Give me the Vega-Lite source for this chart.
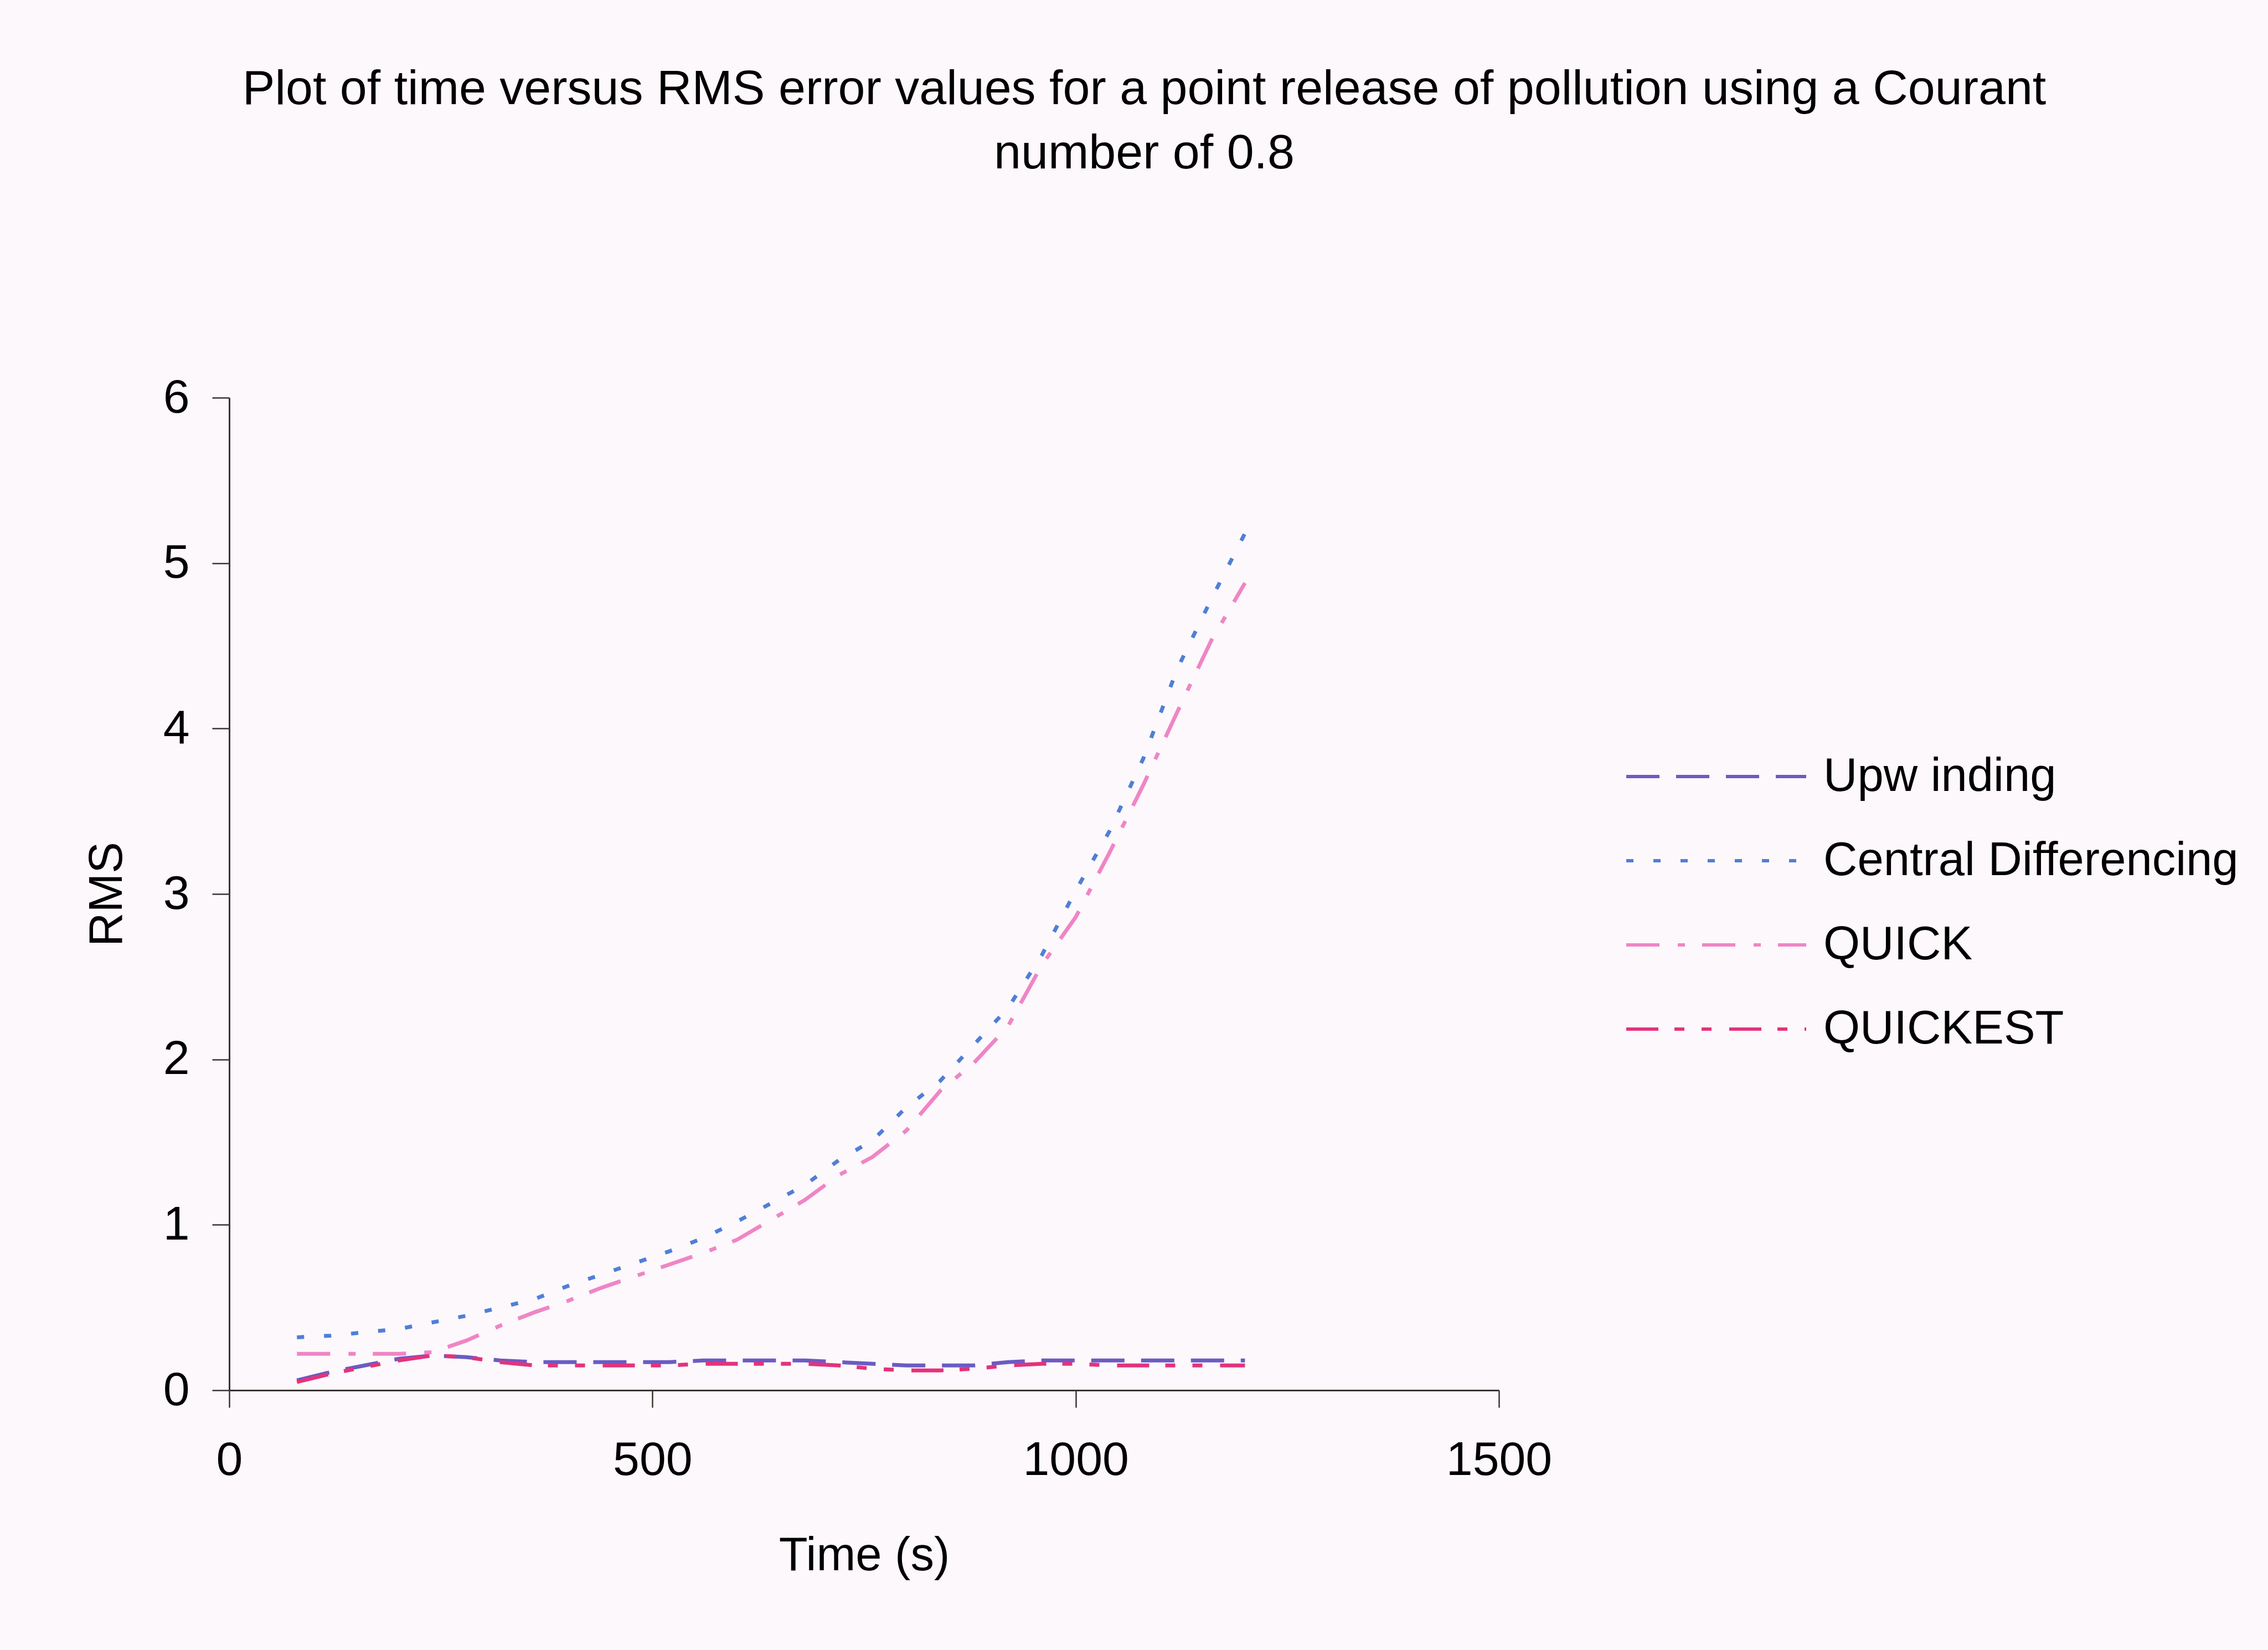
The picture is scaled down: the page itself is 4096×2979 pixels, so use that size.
{
  "$schema": "https://vega.github.io/schema/vega-lite/v6.json",
  "width": 2293,
  "height": 1792,
  "autosize": {"type": "none"},
  "padding": {"left": 414, "top": 718, "right": 1389, "bottom": 469},
  "background": "#fdf8fb",
  "title": {
    "text": ["Plot of time versus RMS error values for a point release of pollution using a Courant", "number of 0.8"],
    "fontSize": 88,
    "font": "Liberation Sans",
    "fontWeight": "normal",
    "lineHeight": 116,
    "anchor": "middle",
    "frame": "group",
    "dx": 506,
    "offset": 353,
    "color": "#000000"
  },
  "datasets": {
    "rms": [
      {"t": 80, "series": "Upw inding", "rms": 0.06},
      {"t": 120, "series": "Upw inding", "rms": 0.11},
      {"t": 160, "series": "Upw inding", "rms": 0.15},
      {"t": 200, "series": "Upw inding", "rms": 0.19},
      {"t": 240, "series": "Upw inding", "rms": 0.21},
      {"t": 280, "series": "Upw inding", "rms": 0.20},
      {"t": 320, "series": "Upw inding", "rms": 0.18},
      {"t": 360, "series": "Upw inding", "rms": 0.17},
      {"t": 400, "series": "Upw inding", "rms": 0.17},
      {"t": 440, "series": "Upw inding", "rms": 0.17},
      {"t": 480, "series": "Upw inding", "rms": 0.17},
      {"t": 520, "series": "Upw inding", "rms": 0.17},
      {"t": 560, "series": "Upw inding", "rms": 0.18},
      {"t": 600, "series": "Upw inding", "rms": 0.18},
      {"t": 640, "series": "Upw inding", "rms": 0.18},
      {"t": 680, "series": "Upw inding", "rms": 0.18},
      {"t": 720, "series": "Upw inding", "rms": 0.17},
      {"t": 760, "series": "Upw inding", "rms": 0.16},
      {"t": 800, "series": "Upw inding", "rms": 0.15},
      {"t": 840, "series": "Upw inding", "rms": 0.15},
      {"t": 880, "series": "Upw inding", "rms": 0.15},
      {"t": 920, "series": "Upw inding", "rms": 0.17},
      {"t": 960, "series": "Upw inding", "rms": 0.18},
      {"t": 1000, "series": "Upw inding", "rms": 0.18},
      {"t": 1040, "series": "Upw inding", "rms": 0.18},
      {"t": 1080, "series": "Upw inding", "rms": 0.18},
      {"t": 1120, "series": "Upw inding", "rms": 0.18},
      {"t": 1160, "series": "Upw inding", "rms": 0.18},
      {"t": 1200, "series": "Upw inding", "rms": 0.18},

      {"t": 80, "series": "Central Differencing", "rms": 0.32},
      {"t": 120, "series": "Central Differencing", "rms": 0.33},
      {"t": 160, "series": "Central Differencing", "rms": 0.35},
      {"t": 200, "series": "Central Differencing", "rms": 0.37},
      {"t": 240, "series": "Central Differencing", "rms": 0.41},
      {"t": 280, "series": "Central Differencing", "rms": 0.45},
      {"t": 320, "series": "Central Differencing", "rms": 0.50},
      {"t": 360, "series": "Central Differencing", "rms": 0.55},
      {"t": 400, "series": "Central Differencing", "rms": 0.63},
      {"t": 440, "series": "Central Differencing", "rms": 0.70},
      {"t": 480, "series": "Central Differencing", "rms": 0.77},
      {"t": 520, "series": "Central Differencing", "rms": 0.84},
      {"t": 560, "series": "Central Differencing", "rms": 0.92},
      {"t": 600, "series": "Central Differencing", "rms": 1.02},
      {"t": 640, "series": "Central Differencing", "rms": 1.13},
      {"t": 680, "series": "Central Differencing", "rms": 1.24},
      {"t": 720, "series": "Central Differencing", "rms": 1.39},
      {"t": 760, "series": "Central Differencing", "rms": 1.51},
      {"t": 800, "series": "Central Differencing", "rms": 1.71},
      {"t": 840, "series": "Central Differencing", "rms": 1.87},
      {"t": 880, "series": "Central Differencing", "rms": 2.09},
      {"t": 920, "series": "Central Differencing", "rms": 2.31},
      {"t": 960, "series": "Central Differencing", "rms": 2.63},
      {"t": 1000, "series": "Central Differencing", "rms": 3.02},
      {"t": 1040, "series": "Central Differencing", "rms": 3.38},
      {"t": 1080, "series": "Central Differencing", "rms": 3.82},
      {"t": 1120, "series": "Central Differencing", "rms": 4.36},
      {"t": 1160, "series": "Central Differencing", "rms": 4.78},
      {"t": 1200, "series": "Central Differencing", "rms": 5.18},

      {"t": 80, "series": "QUICK", "rms": 0.22},
      {"t": 120, "series": "QUICK", "rms": 0.22},
      {"t": 160, "series": "QUICK", "rms": 0.22},
      {"t": 200, "series": "QUICK", "rms": 0.22},
      {"t": 240, "series": "QUICK", "rms": 0.23},
      {"t": 280, "series": "QUICK", "rms": 0.30},
      {"t": 320, "series": "QUICK", "rms": 0.39},
      {"t": 360, "series": "QUICK", "rms": 0.47},
      {"t": 400, "series": "QUICK", "rms": 0.54},
      {"t": 440, "series": "QUICK", "rms": 0.62},
      {"t": 480, "series": "QUICK", "rms": 0.69},
      {"t": 520, "series": "QUICK", "rms": 0.76},
      {"t": 560, "series": "QUICK", "rms": 0.83},
      {"t": 600, "series": "QUICK", "rms": 0.91},
      {"t": 640, "series": "QUICK", "rms": 1.03},
      {"t": 680, "series": "QUICK", "rms": 1.15},
      {"t": 720, "series": "QUICK", "rms": 1.30},
      {"t": 760, "series": "QUICK", "rms": 1.41},
      {"t": 800, "series": "QUICK", "rms": 1.57},
      {"t": 840, "series": "QUICK", "rms": 1.81},
      {"t": 880, "series": "QUICK", "rms": 1.98},
      {"t": 920, "series": "QUICK", "rms": 2.20},
      {"t": 960, "series": "QUICK", "rms": 2.57},
      {"t": 1000, "series": "QUICK", "rms": 2.86},
      {"t": 1040, "series": "QUICK", "rms": 3.25},
      {"t": 1080, "series": "QUICK", "rms": 3.66},
      {"t": 1120, "series": "QUICK", "rms": 4.10},
      {"t": 1160, "series": "QUICK", "rms": 4.53},
      {"t": 1200, "series": "QUICK", "rms": 4.88},

      {"t": 80, "series": "QUICKEST", "rms": 0.05},
      {"t": 120, "series": "QUICKEST", "rms": 0.10},
      {"t": 160, "series": "QUICKEST", "rms": 0.14},
      {"t": 200, "series": "QUICKEST", "rms": 0.18},
      {"t": 240, "series": "QUICKEST", "rms": 0.21},
      {"t": 280, "series": "QUICKEST", "rms": 0.20},
      {"t": 320, "series": "QUICKEST", "rms": 0.17},
      {"t": 360, "series": "QUICKEST", "rms": 0.15},
      {"t": 400, "series": "QUICKEST", "rms": 0.15},
      {"t": 440, "series": "QUICKEST", "rms": 0.15},
      {"t": 480, "series": "QUICKEST", "rms": 0.15},
      {"t": 520, "series": "QUICKEST", "rms": 0.15},
      {"t": 560, "series": "QUICKEST", "rms": 0.16},
      {"t": 600, "series": "QUICKEST", "rms": 0.16},
      {"t": 640, "series": "QUICKEST", "rms": 0.16},
      {"t": 680, "series": "QUICKEST", "rms": 0.16},
      {"t": 720, "series": "QUICKEST", "rms": 0.15},
      {"t": 760, "series": "QUICKEST", "rms": 0.13},
      {"t": 800, "series": "QUICKEST", "rms": 0.12},
      {"t": 840, "series": "QUICKEST", "rms": 0.12},
      {"t": 880, "series": "QUICKEST", "rms": 0.13},
      {"t": 920, "series": "QUICKEST", "rms": 0.15},
      {"t": 960, "series": "QUICKEST", "rms": 0.16},
      {"t": 1000, "series": "QUICKEST", "rms": 0.16},
      {"t": 1040, "series": "QUICKEST", "rms": 0.15},
      {"t": 1080, "series": "QUICKEST", "rms": 0.15},
      {"t": 1120, "series": "QUICKEST", "rms": 0.15},
      {"t": 1160, "series": "QUICKEST", "rms": 0.15},
      {"t": 1200, "series": "QUICKEST", "rms": 0.15}
    ]
  },
  "data": {"name": "rms"},
  "mark": {"type": "line", "strokeWidth": 7, "strokeCap": "butt"},
  "encoding": {
    "x": {
      "field": "t",
      "type": "quantitative",
      "scale": {"domain": [0, 1500], "nice": false, "zero": false},
      "axis": {
        "values": [0, 500, 1000, 1500],
        "format": "d",
        "title": "Time (s)",
        "labelPadding": 53,
        "titlePadding": 88,
        "labelFlush": false,
        "labelOverlap": false,
        "labelLimit": 0
      }
    },
    "y": {
      "field": "rms",
      "type": "quantitative",
      "scale": {"domain": [0, 6], "nice": false},
      "axis": {
        "values": [0, 1, 2, 3, 4, 5, 6],
        "format": "d",
        "title": "RMS",
        "labelPadding": 41,
        "titlePadding": 57,
        "labelFlush": false,
        "labelOverlap": false,
        "labelLimit": 0
      }
    },
    "color": {
      "field": "series",
      "type": "nominal",
      "sort": null,
      "scale": {
        "domain": ["Upw inding", "Central Differencing", "QUICK", "QUICKEST"],
        "range": ["#6b5bc4", "#4f7fd6", "#ef85c6", "#e2337e"]
      },
      "legend": {
        "title": null,
        "orient": "none",
        "legendX": 2520,
        "legendY": 640,
        "symbolType": "stroke",
        "symbolSize": 105625,
        "symbolStrokeWidth": 6,
        "labelFontSize": 85,
        "labelFont": "Liberation Sans",
        "labelColor": "#000000",
        "labelLimit": 2000,
        "labelOffset": 28,
        "rowPadding": 64,
        "clipHeight": 88,
        "padding": 0,
        "symbolOffset": 0
      }
    },
    "strokeDash": {
      "field": "series",
      "type": "nominal",
      "sort": null,
      "scale": {
        "domain": ["Upw inding", "Central Differencing", "QUICK", "QUICKEST"],
        "range": [[60, 30], [13, 36], [60, 33, 13, 31], [58, 29, 18, 31, 18, 32]]
      },
      "legend": {
        "title": null,
        "orient": "none",
        "legendX": 2520,
        "legendY": 640,
        "symbolType": "stroke",
        "symbolSize": 105625,
        "symbolStrokeWidth": 6,
        "labelFontSize": 85,
        "labelFont": "Liberation Sans",
        "labelColor": "#000000",
        "labelLimit": 2000,
        "labelOffset": 28,
        "rowPadding": 64,
        "clipHeight": 88,
        "padding": 0,
        "symbolOffset": 0
      }
    }
  },
  "config": {
    "view": {"stroke": null},
    "axis": {
      "grid": false,
      "domainColor": "#3a3434",
      "domainWidth": 3,
      "tickColor": "#3a3434",
      "tickWidth": 2.5,
      "tickSize": 31,
      "labelFont": "Liberation Sans",
      "labelFontSize": 86,
      "labelColor": "#000000",
      "titleFont": "Liberation Sans",
      "titleFontSize": 85,
      "titleFontWeight": "normal",
      "titleColor": "#000000"
    }
  }
}
